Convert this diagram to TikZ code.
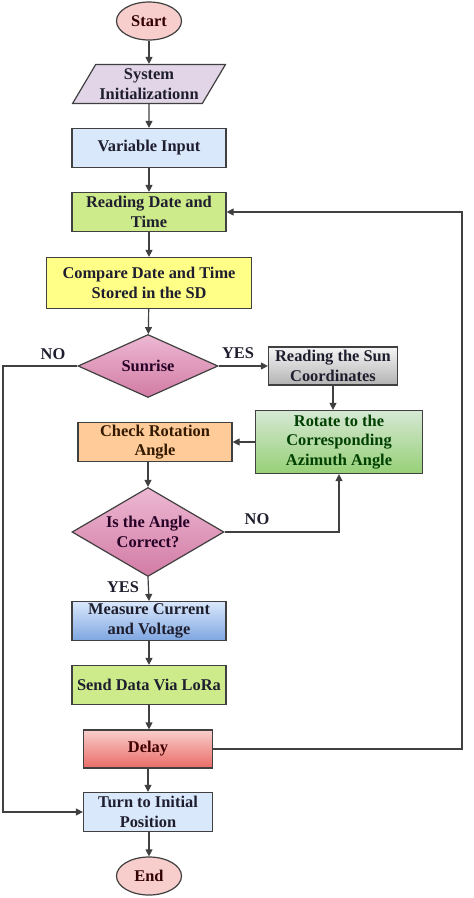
\documentclass[tikz,border=0pt]{standalone}
\usepackage{fontspec}
\setmainfont{Liberation Serif}
\usetikzlibrary{shapes.geometric,arrows.meta,positioning}

\definecolor{lineGray}{HTML}{404040}
\definecolor{startFill}{HTML}{F8CECC}
\definecolor{initFill}{HTML}{E1D5E7}
\definecolor{blueFill}{HTML}{DAE8FC}
\definecolor{limeFill}{HTML}{CDEB8B}
\definecolor{yellowFill}{HTML}{FFFF88}
\definecolor{orangeFill}{HTML}{FFCC99}
\definecolor{pinkTop}{HTML}{EDB8D3}
\definecolor{pinkBot}{HTML}{D27BA4}
\definecolor{grayTop}{HTML}{F5F5F5}
\definecolor{grayBot}{HTML}{B3B3B3}
\definecolor{greenTop}{HTML}{D5E8D4}
\definecolor{greenBot}{HTML}{97D077}
\definecolor{blueBot}{HTML}{7EA6E0}
\definecolor{redBot}{HTML}{EA6B66}
\definecolor{textDark}{HTML}{1E1E2E}

\tikzset{
  flowbox/.style={draw=lineGray, line width=1.2pt, minimum width=154pt,
    minimum height=39pt, align=center, inner sep=2pt, text=textDark,
    font=\bfseries\fontsize{16.4}{19.5}\selectfont},
  terminal/.style={flowbox, ellipse, minimum width=65pt, minimum height=38pt,
    fill=startFill, text={black!80!red}},
  decision/.style={flowbox, diamond, inner sep=0pt, aspect=1.7},
  flowlabel/.style={text=textDark, font=\bfseries\fontsize{16.4}{19.5}\selectfont},
  flowline/.style={draw=lineGray, line width=1.2pt, -{Triangle[length=7pt,width=7pt]}}
}

\begin{document}
\begin{tikzpicture}[x=1pt,y=-1pt]
    \useasboundingbox (0,0) rectangle (474,898);

    % Main column.
    \node[terminal] (start) at (149,21) {Start};
    \node[flowbox, trapezium, trapezium left angle=57, trapezium right angle=123,
      trapezium stretches=true, minimum width=153pt, fill=initFill] (init) at (149,84)
      {System\\Initializationn};
    \node[flowbox, fill=blueFill] (varin) at (149,148) {Variable Input};
    \node[flowbox, fill=limeFill] (readdt) at (149,212) {Reading Date and\\Time};
    \node[flowbox, fill=yellowFill, minimum width=205pt, minimum height=51pt] (compare)
      at (149,283) {Compare Date and Time\\Stored in the SD};
    \node[decision, minimum width=140pt, minimum height=63pt, top color=pinkTop,
      bottom color=pinkBot, text={black!70!violet}] (sunrise) at (148,366) {Sunrise};

    % Right branch.
    \node[flowbox, minimum width=129pt, minimum height=38pt, top color=grayTop,
      bottom color=grayBot] (sun) at (333,366) {Reading the Sun\\Coordinates};
    \node[flowbox, minimum width=167pt, minimum height=63pt, top color=greenTop,
      bottom color=greenBot, text={black!75!green}] (rotate) at (339,442)
      {Rotate to the\\Corresponding\\Azimuth Angle};
    \node[flowbox, fill=orangeFill, text={black!80!orange}] (check) at (155,442)
      {Check Rotation\\Angle};
    \node[decision, minimum width=152pt, minimum height=89pt, top color=pinkTop,
      bottom color=pinkBot, text={black!70!violet}] (angle) at (148,532)
      {Is the Angle\\Correct?};

    % Lower column.
    \node[flowbox, top color=blueFill, bottom color=blueBot] (measure) at (149,621)
      {Measure Current\\and Voltage};
    \node[flowbox, fill=limeFill] (send) at (149,685) {Send Data Via LoRa};
    \node[flowbox, minimum width=129pt, minimum height=38pt, top color=startFill,
      bottom color=redBot, text={black!75!red}] (delay) at (148,749) {Delay};
    \node[flowbox, minimum width=129pt, fill=blueFill] (turn) at (148,812)
      {Turn to Initial\\Position};
    \node[terminal] (end) at (149,876) {End};

    % Branch labels.
    \node[flowlabel] (sunno) at (53,354) {NO};
    \node[flowlabel] (sunyes) at (238,353) {YES};
    \node[flowlabel] (angleno) at (257,519) {NO};
    \node[flowlabel] (angleyes) at (123,587) {YES};

    % Helper points for the loops.
    \coordinate (leftrail) at (3,0);
    \coordinate (rightrail) at (462,0);

    % Straight arrows.
    \draw[flowline] (start) -- (init);
    \draw[flowline] (init) -- (varin);
    \draw[flowline] (varin) -- (readdt);
    \draw[flowline] (readdt) -- (compare);
    \draw[flowline] (compare) -- (sunrise);
    \draw[flowline] (sunrise.east) -- (sun.west);
    \draw[flowline] (sun.south) -- (sun.south |- rotate.north);
    \draw[flowline] (rotate.west) -- (check.east);
    \draw[flowline] (angle.north |- check.south) -- (angle.north);
    \draw[flowline] (angle.south) -- (measure.north);
    \draw[flowline] (measure) -- (send);
    \draw[flowline] (send.south) -- (send.south |- delay.north);
    \draw[flowline] (delay) -- (turn);
    \draw[flowline] (turn.south) -- (turn.south -| end.north) -- (end.north);

    % Loops.
    \draw[flowline] (angle.east) -| (rotate.south);
    \draw[flowline] (sunrise.west) -- (leftrail |- sunrise.west) |- (turn.west);
    \draw[flowline] (delay.east) -| (rightrail |- readdt.east) -- (readdt.east);

\end{tikzpicture}
\end{document}
